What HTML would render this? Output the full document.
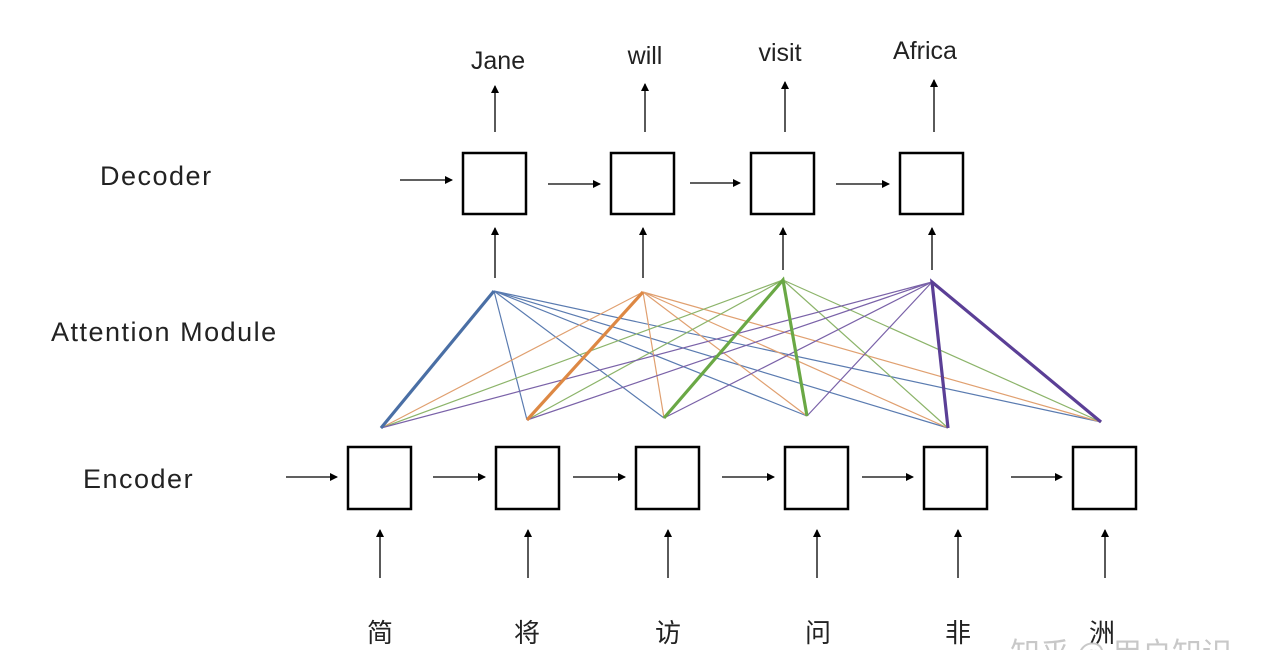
<!DOCTYPE html>
<html><head><meta charset="utf-8"><style>body{margin:0;background:#fff;overflow:hidden}svg{display:block}</style></head><body>
<svg width="1278" height="650" xmlns="http://www.w3.org/2000/svg" font-family="Liberation Sans, Noto Sans CJK SC, sans-serif">
<defs><marker id="a" markerWidth="8" markerHeight="8" refX="7" refY="4" orient="auto" markerUnits="userSpaceOnUse"><path d="M0,0 L8,4 L0,8 z" fill="#000"/></marker></defs>
<g font-size="25" fill="#222" text-anchor="middle">
<text x="498" y="69">Jane</text><text x="645" y="64">will</text><text x="780" y="61">visit</text><text x="925" y="59">Africa</text>
</g>
<g font-size="27" fill="#222" letter-spacing="1.5">
<text x="100" y="185">Decoder</text><text x="51" y="341">Attention Module</text><text x="83" y="488">Encoder</text>
</g>
<g font-size="26" fill="#222" text-anchor="middle" font-family="Noto Sans CJK SC, sans-serif">
<text x="380" y="642">简</text><text x="527" y="642">将</text><text x="668" y="642">访</text><text x="818" y="642">问</text><text x="958" y="642">非</text><text x="1102" y="642">洲</text>
</g>
<text x="1010" y="664" font-size="30" fill="#c8c8c8" font-family="Noto Sans CJK SC, sans-serif">知乎 @ 用户知识</text>
<g fill="none" stroke="#000" stroke-width="2.5">
<rect x="463" y="153" width="63" height="61"/><rect x="611" y="153" width="63" height="61"/><rect x="751" y="153" width="63" height="61"/><rect x="900" y="153" width="63" height="61"/>
<rect x="348" y="447" width="63" height="62"/><rect x="496" y="447" width="63" height="62"/><rect x="636" y="447" width="63" height="62"/><rect x="785" y="447" width="63" height="62"/><rect x="924" y="447" width="63" height="62"/><rect x="1073" y="447" width="63" height="62"/>
</g>
<g stroke="#000" stroke-width="1.3" marker-end="url(#a)">
<line x1="495" y1="132" x2="495" y2="86"/><line x1="645" y1="132" x2="645" y2="84"/><line x1="785" y1="132" x2="785" y2="82"/><line x1="934" y1="132" x2="934" y2="80"/>
<line x1="495" y1="278" x2="495" y2="228"/><line x1="643" y1="278" x2="643" y2="228"/><line x1="783" y1="270" x2="783" y2="228"/><line x1="932" y1="270" x2="932" y2="228"/>
<line x1="400" y1="180" x2="452" y2="180"/><line x1="548" y1="184" x2="600" y2="184"/><line x1="690" y1="183" x2="740" y2="183"/><line x1="836" y1="184" x2="889" y2="184"/>
<line x1="286" y1="477" x2="337" y2="477"/><line x1="433" y1="477" x2="485" y2="477"/><line x1="573" y1="477" x2="625" y2="477"/><line x1="722" y1="477" x2="774" y2="477"/><line x1="862" y1="477" x2="913" y2="477"/><line x1="1011" y1="477" x2="1062" y2="477"/>
<line x1="380" y1="578" x2="380" y2="530"/><line x1="528" y1="578" x2="528" y2="530"/><line x1="668" y1="578" x2="668" y2="530"/><line x1="817" y1="578" x2="817" y2="530"/><line x1="958" y1="578" x2="958" y2="530"/><line x1="1105" y1="578" x2="1105" y2="530"/>
</g>
<g stroke-width="1.2" fill="none">
<g stroke="#5a7bb0"><path d="M494,291 L527,420 M494,291 L664,418 M494,291 L807,416 M494,291 L948,428 M494,291 L1101,422"/></g>
<g stroke="#e0a070"><path d="M643,292 L381,428 M643,292 L664,418 M643,292 L807,416 M643,292 L948,428 M643,292 L1101,422"/></g>
<g stroke="#8cb46a"><path d="M783,280 L381,428 M783,280 L527,420 M783,280 L948,428 M783,280 L1101,422"/></g>
<g stroke="#7a62a8"><path d="M932,282 L381,428 M932,282 L527,420 M932,282 L664,418 M932,282 L807,416"/></g>
</g>
<g stroke-width="3.2" fill="none">
<line x1="494" y1="291" x2="381" y2="428" stroke="#4a6fa5"/>
<line x1="643" y1="292" x2="527" y2="420" stroke="#dd8844"/>
<path d="M664,418 L783,280 L807,416" stroke="#6aa845"/>
<path d="M948,428 L932,282 L1101,422" stroke="#5b3f96"/>
</g>
</svg>
</body></html>
